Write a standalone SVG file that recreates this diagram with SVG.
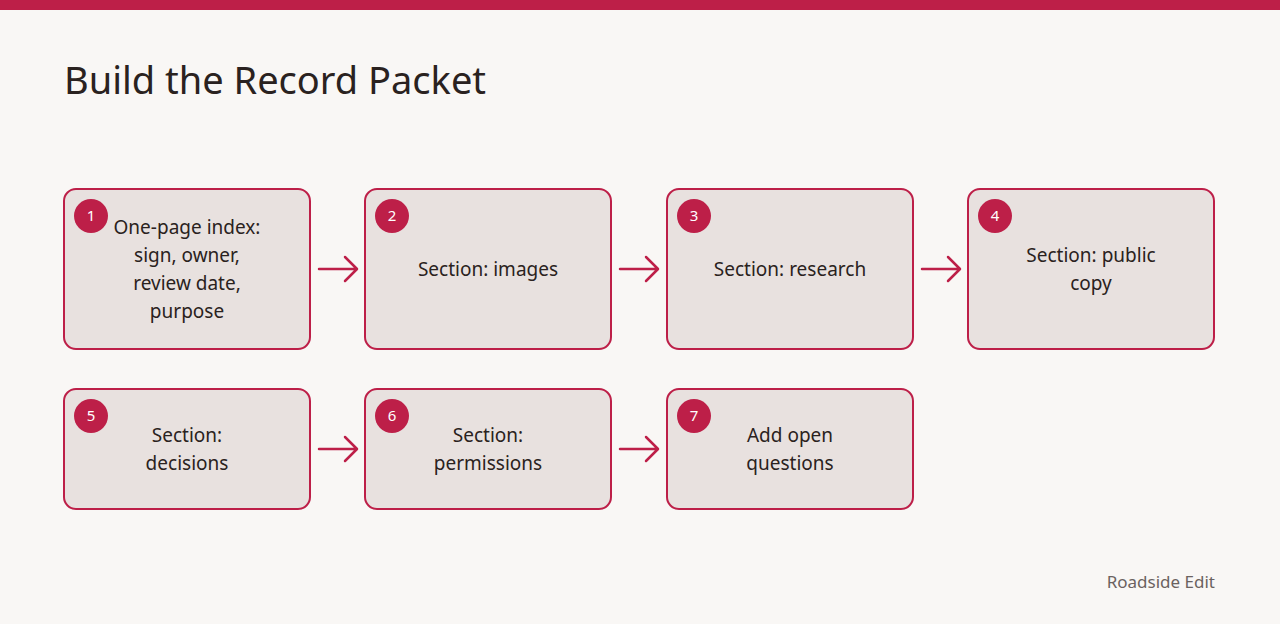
<svg xmlns="http://www.w3.org/2000/svg" width="1280" height="624" viewBox="0 0 1280 624">
<style>
.box{fill:#e8e1df;stroke:#bd1f48;stroke-width:2}
.badge{fill:#bd1f48}
.bn{font-family:"Noto Sans",sans-serif;font-size:15px;fill:#fff;text-anchor:middle}
.t{font-family:"Noto Sans",sans-serif;font-size:19px;fill:#2a2220;text-anchor:middle}
.c{stroke:#bd1f48;stroke-width:2.5;fill:none;stroke-linecap:round;stroke-linejoin:round}
</style>
<rect width="1280" height="624" fill="#f9f7f5"/>
<rect width="1280" height="10" fill="#bd1f48"/>
<text x="64" y="94" font-family="Noto Sans, sans-serif" font-size="38" fill="#2a2220">Build the Record Packet</text>
<g id="connectors">
<path class="c" d="M319 269H356M345 257L357 269L345 281"/>
<path class="c" d="M620 269H657M646 257L658 269L646 281"/>
<path class="c" d="M922 269H959M948 257L960 269L948 281"/>
<path class="c" d="M319 449H356M345 437L357 449L345 461"/>
<path class="c" d="M620 449H657M646 437L658 449L646 461"/>
</g>
<g id="n1"><rect class="box" x="64" y="189" width="246" height="160" rx="12"/><circle class="badge" cx="91" cy="216" r="17"/><text class="bn" x="91" y="221">1</text>
<text class="t" x="187" y="234">One-page index:</text><text class="t" x="187" y="262">sign, owner,</text><text class="t" x="187" y="290">review date,</text><text class="t" x="187" y="318">purpose</text></g>
<g id="n2"><rect class="box" x="365" y="189" width="246" height="160" rx="12"/><circle class="badge" cx="392" cy="216" r="17"/><text class="bn" x="392" y="221">2</text>
<text class="t" x="488" y="276">Section: images</text></g>
<g id="n3"><rect class="box" x="667" y="189" width="246" height="160" rx="12"/><circle class="badge" cx="694" cy="216" r="17"/><text class="bn" x="694" y="221">3</text>
<text class="t" x="790" y="276">Section: research</text></g>
<g id="n4"><rect class="box" x="968" y="189" width="246" height="160" rx="12"/><circle class="badge" cx="995" cy="216" r="17"/><text class="bn" x="995" y="221">4</text>
<text class="t" x="1091" y="262">Section: public</text><text class="t" x="1091" y="290">copy</text></g>
<g id="n5"><rect class="box" x="64" y="389" width="246" height="120" rx="12"/><circle class="badge" cx="91" cy="416" r="17"/><text class="bn" x="91" y="421">5</text>
<text class="t" x="187" y="442">Section:</text><text class="t" x="187" y="470">decisions</text></g>
<g id="n6"><rect class="box" x="365" y="389" width="246" height="120" rx="12"/><circle class="badge" cx="392" cy="416" r="17"/><text class="bn" x="392" y="421">6</text>
<text class="t" x="488" y="442">Section:</text><text class="t" x="488" y="470">permissions</text></g>
<g id="n7"><rect class="box" x="667" y="389" width="246" height="120" rx="12"/><circle class="badge" cx="694" cy="416" r="17"/><text class="bn" x="694" y="421">7</text>
<text class="t" x="790" y="442">Add open</text><text class="t" x="790" y="470">questions</text></g>
<text x="1215" y="588" text-anchor="end" font-family="Noto Sans, sans-serif" font-size="17" fill="#6b6260">Roadside Edit</text>
</svg>
